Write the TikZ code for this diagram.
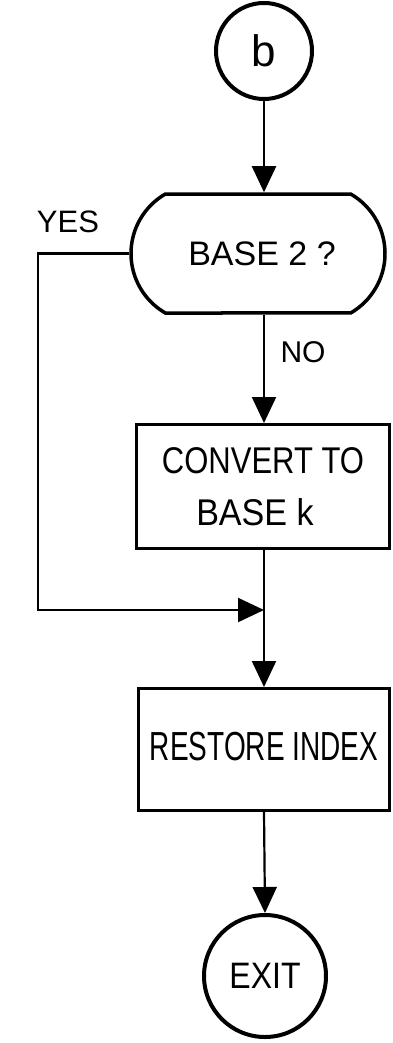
\documentclass[tikz,border=0pt]{standalone}
\usepackage{fontspec}
\usepackage{graphicx}
\setmainfont{Liberation Sans}
\usetikzlibrary{arrows.meta,shapes.misc}
\begin{document}
\begin{tikzpicture}[x=1pt,y=-1pt,
  conn/.style={line width=2.2pt,-{Triangle[width=24pt,length=26pt]}},
  plain/.style={line width=2.2pt},
  termc/.style={circle,draw,line width=4pt,inner sep=0pt},
  procbox/.style={rectangle,draw,line width=3pt,inner sep=0pt,align=center},
  decis/.style={rounded rectangle,rounded rectangle arc length=120,draw,line width=3.5pt,inner sep=0pt},
  lbl/.style={inner sep=0pt}]
\useasboundingbox (0,0) rectangle (393,1043);
\node[termc,minimum size=96pt,font=\fontsize{44}{48}\selectfont] (b) at (264,51) {b};
\node[decis,minimum width=254pt,minimum height=119pt,font=\fontsize{34}{38}\selectfont] (dec) at (258,253.5)
  {\hspace{8pt}BASE 2 ?};
\node[procbox,minimum width=253pt,minimum height=124pt,font=\fontsize{31}{36}\selectfont] (conv) at (263,486.5)
  {\scalebox{1}[1.2]{CONVERT TO}\\[16pt] \hspace*{-16pt}\scalebox{1.1}[1.2]{BASE k}};
\node[procbox,minimum width=251pt,minimum height=122pt,font=\fontsize{28}{32}\selectfont] (rest) at (264,749.5)
  {\raisebox{6pt}{\scalebox{1}[1.45]{RESTORE INDEX}}};
\node[termc,minimum size=122pt,font=\fontsize{32}{36}\selectfont] (exit) at (265,976) {\scalebox{1}[1.15]{EXIT}};
\node[lbl,font=\fontsize{31}{34}\selectfont] (yes) at (68,222) {YES};
\node[lbl,font=\fontsize{30}{34}\selectfont] (no) at (303,352) {NO};
\coordinate (yl) at (38,610);
\coordinate (j) at (264,610);
\draw[conn] (b.south) -- (b.south |- dec.north);
\draw[conn] (dec.south -| b.center) -- (conv.north -| b.center);
\draw[plain] (conv.south -| b.center) -- (j);
\draw[conn] (j) -- (rest.north -| b.center);
\draw[conn] (dec.west) -| (yl) -- (j);
\draw[conn] (rest.south -| b.center) -- (exit.north);
\end{tikzpicture}
\end{document}
